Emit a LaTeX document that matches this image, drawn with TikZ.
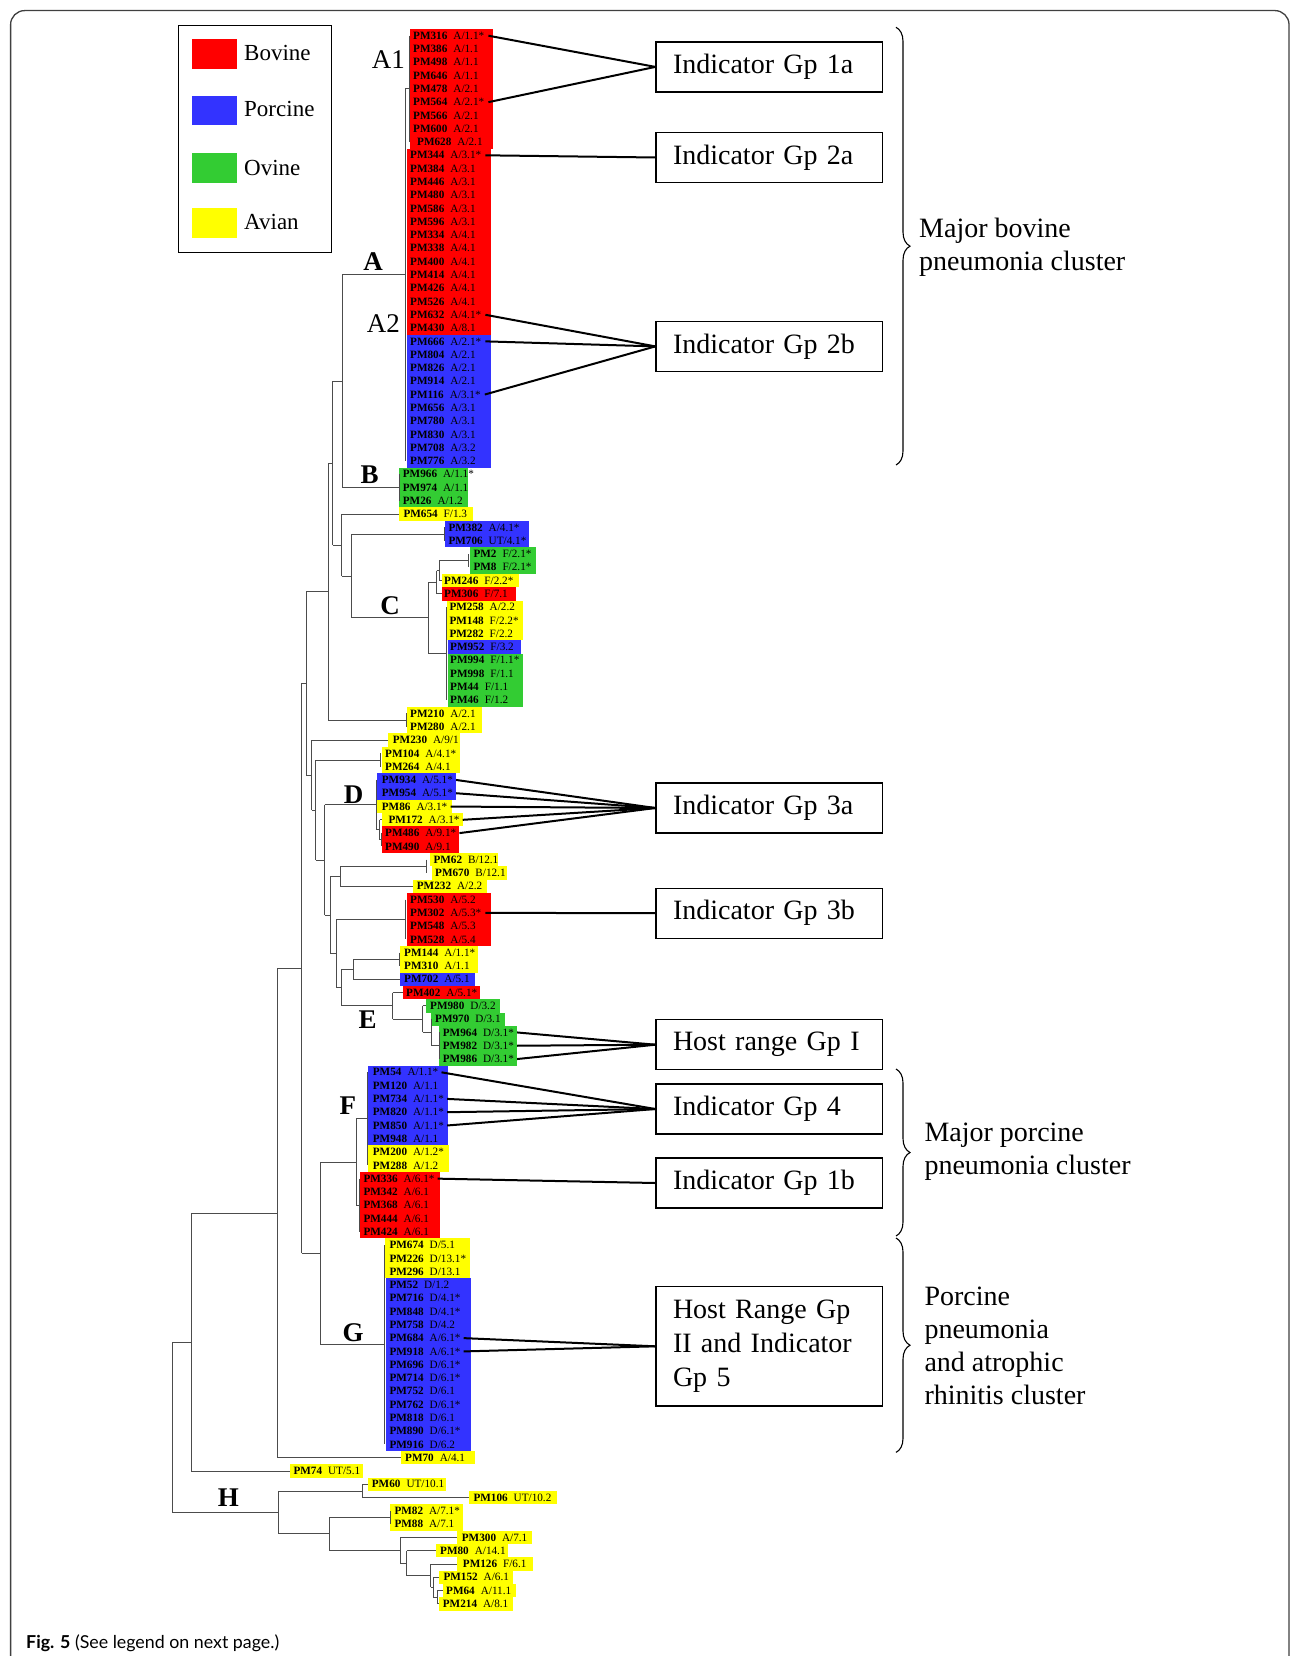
\documentclass[tikz,border=0pt]{standalone}
\usepackage{fontspec}
\setmainfont{Liberation Serif}
\newfontfamily\capfont{Lato}
\usetikzlibrary{decorations.pathreplacing}
\definecolor{cbov}{RGB}{255,0,0}
\definecolor{cpor}{RGB}{51,51,255}
\definecolor{covi}{RGB}{51,204,51}
\definecolor{cavi}{RGB}{255,255,0}
\newcommand\trV[3]{\draw[tree] (#1,#2) -- (#1,#3);}
\newcommand\trH[3]{\draw[tree] (#2,#1) -- (#3,#1);}
\newcommand\blk[5]{\fill[#5] (#1,{#3-0.5}) rectangle (#2,{#4+0.5});}
\newcommand\lf[4]{\node[lbl] (pm#2) at (#1,#3) {\textbf{PM#2}\hspace{6pt}#4};}
\begin{document}
\begin{tikzpicture}[x=1pt,y=-1pt,
  tree/.style={line width=0.9pt,black!70},
  conn/.style={line width=2pt,black},
  lbl/.style={anchor=west,inner sep=0pt,font=\fontsize{11.2}{12}\selectfont},
  gbox/.style={draw,line width=1.3pt,inner xsep=17pt,inner ysep=0pt,text width=192.5pt,align=left,minimum height=50pt,font=\fontsize{28}{33.8}\selectfont},
  clab/.style={inner sep=0pt,font=\fontsize{27}{30}\selectfont\bfseries},
  clabn/.style={inner sep=0pt,font=\fontsize{27}{30}\selectfont},
  legt/.style={anchor=west,inner sep=0pt,font=\fontsize{23}{26}\selectfont},
  ctext/.style={anchor=west,inner sep=0pt,align=left,font=\fontsize{28}{33}\selectfont},
  brc/.style={decorate,decoration={brace,amplitude=14pt},line width=1.1pt}
]
\useasboundingbox (0,0) rectangle (1295,1656);
\fill[white] (0,0) rectangle (1295,1656);
% frame
\draw[line width=1.3pt,black!75,rounded corners=14pt] (10.6,1670) -- (10.6,10.6) -- (1289,10.6) -- (1289,1670);
% legend
\draw[line width=1.4pt] (178.3,25.7) rectangle (331.7,252.3);
\fill[cbov] (192.3,39.3) rectangle (236.7,69);
\fill[cpor] (192.3,96) rectangle (236.7,125.3);
\fill[covi] (192.3,153.3) rectangle (236.7,183.3);
\fill[cavi] (192.3,208.3) rectangle (236.7,237.7);
\node[legt] (lbov) at (244,53.3) {Bovine};
\node[legt] (lpor) at (244,109.3) {Porcine};
\node[legt] (lovi) at (244,168.3) {Ovine};
\node[legt] (lavi) at (244,221.7) {Avian};

\begin{scope}[yshift=-35.7pt,y=-13.29pt]
% blocks
\blk{410}{493}{0}{8}{cbov}
\blk{407}{491}{9}{22}{cbov}
\blk{407}{491}{23}{32}{cpor}
\blk{399}{467.7}{33}{35}{covi}
\blk{399}{473.3}{36}{36}{cavi}
\blk{445}{529.3}{37}{38}{cpor}
\blk{470}{536}{39}{40}{covi}
\blk{441.7}{519.3}{41}{41}{cavi}
\blk{441.7}{515.7}{42}{42}{cbov}
\blk{446.7}{523.3}{43}{45}{cavi}
\blk{447.7}{521}{46}{46}{cpor}
\blk{447.7}{523.3}{47}{50}{covi}
\blk{406.7}{481.7}{51}{52}{cavi}
\blk{388.3}{460}{53}{53}{cavi}
\blk{381.7}{460}{54}{55}{cavi}
\blk{377.3}{456}{56}{57}{cpor}
\blk{377.3}{451.7}{58}{58}{cavi}
\blk{381.7}{463.3}{59}{59}{cavi}
\blk{381.7}{459.3}{60}{61}{cbov}
\blk{430}{498.3}{62}{62}{cavi}
\blk{431.7}{506.7}{63}{63}{cavi}
\blk{413.3}{486.7}{64}{64}{cavi}
\blk{406.7}{490.7}{65}{68}{cbov}
\blk{400}{478.3}{69}{70}{cavi}
\blk{400}{475}{71}{71}{cpor}
\blk{402.7}{480}{72}{72}{cbov}
\blk{426}{500}{73}{73}{covi}
\blk{431}{505}{74}{74}{covi}
\blk{439.3}{516.7}{75}{77}{covi}
\blk{368.3}{448.3}{78}{83}{cpor}
\blk{368.3}{449}{84}{85}{cavi}
\blk{360}{440}{86}{90}{cbov}
\blk{385}{470}{91}{93}{cavi}
\blk{385.7}{470.7}{94}{106}{cpor}
\blk{401}{475}{107}{107}{cavi}
\blk{290}{363.3}{108}{108}{cavi}
\blk{368.3}{446}{109}{109}{cavi}
\blk{469.3}{557.3}{110}{110}{cavi}
\blk{390}{463.3}{111}{112}{cavi}
\blk{457.3}{531.7}{113}{113}{cavi}
\blk{436}{508.3}{114}{114}{cavi}
\blk{457.3}{532.7}{115}{115}{cavi}
\blk{439.3}{513.3}{116}{116}{cavi}
\blk{442.7}{516}{117}{117}{cavi}
\blk{439.3}{513.3}{118}{118}{cavi}
% tree verticals
\trV{409}{0}{8}
\trV{405.3}{4}{32}
\trV{399.3}{33}{35}
\trV{342.3}{18}{34}
\trV{444.3}{37}{38}
\trV{468.3}{39}{40}
\trV{439}{39.5}{41}
\trV{436.7}{40.25}{42}
\trV{446.7}{43}{50}
\trV{428}{41.125}{46.5}
\trV{351}{37.5}{43.81}
\trV{341.7}{36}{40.66}
\trV{332.7}{26}{38.33}
\trV{406}{51}{52}
\trV{328.3}{32.17}{51.5}
\trV{380.7}{54}{55}
\trV{379.5}{59}{60.5}
\trV{381}{60}{61}
\trV{376}{56}{59.75}
\trV{426.3}{62}{63}
\trV{340}{62.5}{64}
\trV{405.5}{65}{68}
\trV{399.3}{69}{70}
\trV{353.3}{69.5}{71}
\trV{439}{75}{77}
\trV{431}{74}{76}
\trV{422.7}{73}{75}
\trV{392.5}{72}{74}
\trV{341.7}{70.25}{73}
\trV{336}{66.5}{71.625}
\trV{330}{63.25}{69.06}
\trV{324.7}{57.875}{66.16}
\trV{315.7}{54.5}{62.02}
\trV{311.7}{53}{58.26}
\trV{306}{41.83}{55.63}
\trV{367.8}{78}{85}
\trV{359.5}{86}{90}
\trV{356}{81.5}{88}
\trV{384}{91}{106}
\trV{320}{84.75}{98.5}
\trV{301.7}{48.73}{91.625}
\trV{277.7}{70.18}{107}
\trV{191}{88.59}{108}
\trV{362.7}{109}{110}
\trV{390}{111}{112}
\trV{437.3}{117}{118}
\trV{433.3}{116}{117.5}
\trV{430.7}{115}{116.75}
\trV{406.7}{114}{115.875}
\trV{400}{113}{114.94}
\trV{329}{111.5}{113.97}
\trV{278.3}{109.5}{112.73}
\trV{172.3}{98.3}{111.12}
% tree horizontals
\trH{4}{405.3}{409}
\trH{18}{342.3}{405.3}
\trH{34}{342.3}{399.3}
\trH{26}{332.7}{342.3}
\trH{37.5}{351}{444.3}
\trH{39.5}{439}{468.3}
\trH{40.25}{436.7}{439}
\trH{41}{439}{441.7}
\trH{41.125}{428}{436.7}
\trH{42}{436.7}{441.7}
\trH{46.5}{428}{446.7}
\trH{43.81}{351}{428}
\trH{40.66}{341.7}{351}
\trH{36}{341.7}{399}
\trH{38.33}{332.7}{341.7}
\trH{32.17}{328.3}{332.7}
\trH{51.5}{328.3}{406}
\trH{41.83}{306}{328.3}
\trH{53}{311.7}{388.3}
\trH{54.5}{315.7}{380.7}
\trH{59}{379.5}{381.7}
\trH{60.5}{379.5}{381}
\trH{59.75}{376}{379.5}
\trH{57.875}{324.7}{376}
\trH{62.5}{340}{426.3}
\trH{64}{340}{413.3}
\trH{63.25}{330}{340}
\trH{66.5}{336}{405.5}
\trH{69.5}{353.3}{399.3}
\trH{71}{353.3}{400}
\trH{70.25}{341.7}{353.3}
\trH{76}{431}{439}
\trH{75}{422.7}{431}
\trH{73}{422.7}{426}
\trH{72}{392.5}{402.7}
\trH{74}{392.5}{422.7}
\trH{73}{341.7}{392.5}
\trH{71.625}{336}{341.7}
\trH{69.06}{330}{336}
\trH{66.16}{324.7}{330}
\trH{62.02}{315.7}{324.7}
\trH{58.26}{311.7}{315.7}
\trH{55.63}{306}{311.7}
\trH{48.73}{301.7}{306}
\trH{81.5}{356}{367.8}
\trH{88}{356}{359.5}
\trH{84.75}{320}{356}
\trH{98.5}{320}{384}
\trH{91.625}{301.7}{320}
\trH{70.18}{277.7}{301.7}
\trH{107}{277.7}{401}
\trH{88.59}{191}{277.7}
\trH{108}{191}{290}
\trH{98.3}{172.3}{191}
\trH{109}{362.7}{368.3}
\trH{110}{362.7}{469.3}
\trH{109.5}{278.3}{362.7}
\trH{111.5}{329}{390}
\trH{117}{437.3}{442.7}
\trH{118}{437.3}{439.3}
\trH{116}{433.3}{439.3}
\trH{117.5}{433.3}{437.3}
\trH{115}{430.7}{457.3}
\trH{116.75}{430.7}{433.3}
\trH{114}{406.7}{436}
\trH{115.875}{406.7}{430.7}
\trH{113}{400}{457.3}
\trH{114.94}{400}{406.7}
\trH{113.97}{329}{400}
\trH{112.73}{278.3}{329}
\trH{111.12}{172.3}{278.3}
% leaves
\lf{413}{316}{0}{A/1.1*}
\lf{413}{386}{1}{A/1.1}
\lf{413}{498}{2}{A/1.1}
\lf{413}{646}{3}{A/1.1}
\lf{413}{478}{4}{A/2.1}
\lf{413}{564}{5}{A/2.1*}
\lf{413}{566}{6}{A/2.1}
\lf{413}{600}{7}{A/2.1}
\lf{417}{628}{8}{A/2.1}
\lf{410}{344}{9}{A/3.1*}
\lf{410}{384}{10}{A/3.1}
\lf{410}{446}{11}{A/3.1}
\lf{410}{480}{12}{A/3.1}
\lf{410}{586}{13}{A/3.1}
\lf{410}{596}{14}{A/3.1}
\lf{410}{334}{15}{A/4.1}
\lf{410}{338}{16}{A/4.1}
\lf{410}{400}{17}{A/4.1}
\lf{410}{414}{18}{A/4.1}
\lf{410}{426}{19}{A/4.1}
\lf{410}{526}{20}{A/4.1}
\lf{410}{632}{21}{A/4.1*}
\lf{410}{430}{22}{A/8.1}
\lf{410}{666}{23}{A/2.1*}
\lf{410}{804}{24}{A/2.1}
\lf{410}{826}{25}{A/2.1}
\lf{410}{914}{26}{A/2.1}
\lf{410}{116}{27}{A/3.1*}
\lf{410}{656}{28}{A/3.1}
\lf{410}{780}{29}{A/3.1}
\lf{410}{830}{30}{A/3.1}
\lf{410}{708}{31}{A/3.2}
\lf{410}{776}{32}{A/3.2}
\lf{402.7}{966}{33}{A/1.1*}
\lf{402.7}{974}{34}{A/1.1}
\lf{402.7}{26}{35}{A/1.2}
\lf{403.3}{654}{36}{F/1.3}
\lf{448.3}{382}{37}{A/4.1*}
\lf{448.3}{706}{38}{UT/4.1*}
\lf{473.3}{2}{39}{F/2.1*}
\lf{473.3}{8}{40}{F/2.1*}
\lf{444}{246}{41}{F/2.2*}
\lf{444}{306}{42}{F/7.1}
\lf{449.3}{258}{43}{A/2.2}
\lf{449.3}{148}{44}{F/2.2*}
\lf{449.3}{282}{45}{F/2.2}
\lf{450}{952}{46}{F/3.2}
\lf{450}{994}{47}{F/1.1*}
\lf{450}{998}{48}{F/1.1}
\lf{450}{44}{49}{F/1.1}
\lf{450}{46}{50}{F/1.2}
\lf{410}{210}{51}{A/2.1}
\lf{410}{280}{52}{A/2.1}
\lf{392.7}{230}{53}{A/9/1}
\lf{385}{104}{54}{A/4.1*}
\lf{385}{264}{55}{A/4.1}
\lf{381.7}{934}{56}{A/5.1*}
\lf{381.7}{954}{57}{A/5.1*}
\lf{381.7}{86}{58}{A/3.1*}
\lf{388.3}{172}{59}{A/3.1*}
\lf{385}{486}{60}{A/9.1*}
\lf{385}{490}{61}{A/9.1}
\lf{433.3}{62}{62}{B/12.1}
\lf{435}{670}{63}{B/12.1}
\lf{416.7}{232}{64}{A/2.2}
\lf{410}{530}{65}{A/5.2}
\lf{410}{302}{66}{A/5.3*}
\lf{410}{548}{67}{A/5.3}
\lf{410}{528}{68}{A/5.4}
\lf{404}{144}{69}{A/1.1*}
\lf{404}{310}{70}{A/1.1}
\lf{404}{702}{71}{A/5.1}
\lf{406}{402}{72}{A/5.1*}
\lf{430}{980}{73}{D/3.2}
\lf{435}{970}{74}{D/3.1}
\lf{442.7}{964}{75}{D/3.1*}
\lf{442.7}{982}{76}{D/3.1*}
\lf{442.7}{986}{77}{D/3.1*}
\lf{372.7}{54}{78}{A/1.1*}
\lf{372.7}{120}{79}{A/1.1}
\lf{372.7}{734}{80}{A/1.1*}
\lf{372.7}{820}{81}{A/1.1*}
\lf{372.7}{850}{82}{A/1.1*}
\lf{372.7}{948}{83}{A/1.1}
\lf{372.7}{200}{84}{A/1.2*}
\lf{372.7}{288}{85}{A/1.2}
\lf{363.3}{336}{86}{A/6.1*}
\lf{363.3}{342}{87}{A/6.1}
\lf{363.3}{368}{88}{A/6.1}
\lf{363.3}{444}{89}{A/6.1}
\lf{363.3}{424}{90}{A/6.1}
\lf{389.3}{674}{91}{D/5.1}
\lf{389.3}{226}{92}{D/13.1*}
\lf{389.3}{296}{93}{D/13.1}
\lf{389.3}{52}{94}{D/1.2}
\lf{389.3}{716}{95}{D/4.1*}
\lf{389.3}{848}{96}{D/4.1*}
\lf{389.3}{758}{97}{D/4.2}
\lf{389.3}{684}{98}{A/6.1*}
\lf{389.3}{918}{99}{A/6.1*}
\lf{389.3}{696}{100}{D/6.1*}
\lf{389.3}{714}{101}{D/6.1*}
\lf{389.3}{752}{102}{D/6.1}
\lf{389.3}{762}{103}{D/6.1*}
\lf{389.3}{818}{104}{D/6.1}
\lf{389.3}{890}{105}{D/6.1*}
\lf{389.3}{916}{106}{D/6.2}
\lf{405}{70}{107}{A/4.1}
\lf{293.3}{74}{108}{UT/5.1}
\lf{371.7}{60}{109}{UT/10.1}
\lf{473.3}{106}{110}{UT/10.2}
\lf{394.3}{82}{111}{A/7.1*}
\lf{394.3}{88}{112}{A/7.1}
\lf{461.7}{300}{113}{A/7.1}
\lf{440}{80}{114}{A/14.1}
\lf{462.7}{126}{115}{F/6.1}
\lf{443.3}{152}{116}{A/6.1}
\lf{446}{64}{117}{A/11.1}
\lf{442.7}{214}{118}{A/8.1}
\end{scope}

% cluster letters
\node[clabn] (la1) at (388.3,59.3) {A1};
\node[clabn] (la2) at (383.3,323.3) {A2};
\node[clab] (la) at (373,261.7) {A};
\node[clab] (lb) at (369.5,475) {B};
\node[clab] (lc) at (390,606) {C};
\node[clab] (ld) at (353.5,794.5) {D};
\node[clab] (le) at (367.7,1020) {E};
\node[clab] (lf) at (347.8,1105.3) {F};
\node[clab] (lg) at (353,1332.5) {G};
\node[clab] (lh) at (228.3,1497.8) {H};

% group boxes
\node[gbox] (gp1a) at (769.25,66.9) {Indicator Gp 1a};
\node[gbox] (gp2a) at (769.25,157.5) {Indicator Gp 2a};
\node[gbox] (gp2b) at (769.25,346.4) {Indicator Gp 2b};
\node[gbox] (gp3a) at (769.25,808) {Indicator Gp 3a};
\node[gbox] (gp3b) at (769.25,913.2) {Indicator Gp 3b};
\node[gbox] (hr1) at (769.25,1044.7) {Host range Gp I};
\node[gbox] (gp4) at (769.25,1109) {Indicator Gp 4};
\node[gbox] (gp1b) at (769.25,1183) {Indicator Gp 1b};
\node[gbox,minimum height=119.4pt] (hr2) at (769.25,1346.3) {Host Range Gp\\II and Indicator\\Gp 5};

% connectors
\foreach \p in {316,564} \draw[conn] ([xshift=4pt]pm\p.east) -- (gp1a.west);
\foreach \p in {344} \draw[conn] ([xshift=4pt]pm\p.east) -- (gp2a.west);
\foreach \p in {632,666,116} \draw[conn] ([xshift=4pt]pm\p.east) -- (gp2b.west);
\foreach \p in {934,954,86,172,486} \draw[conn] ([xshift=3pt]pm\p.east) -- (gp3a.west);
\foreach \p in {302} \draw[conn] ([xshift=4pt]pm\p.east) -- (gp3b.west);
\foreach \p in {964,982,986} \draw[conn] ([xshift=3pt]pm\p.east) -- (hr1.west);
\foreach \p in {54,734,820,850} \draw[conn] ([xshift=3pt]pm\p.east) -- (gp4.west);
\foreach \p in {336} \draw[conn] ([xshift=3pt]pm\p.east) -- (gp1b.west);
\foreach \p in {684,918} \draw[conn] ([xshift=3pt]pm\p.east) -- (hr2.west);

% braces
\coordinate (b1t) at (896,27.3);
\coordinate (b1b) at (896,465);
\coordinate (b2t) at (896,1069);
\coordinate (b2b) at (896,1236);
\coordinate (b3t) at (896,1238);
\coordinate (b3b) at (896,1452.4);
\draw[brc] (b1t) -- (b1b);
\draw[brc] (b2t) -- (b2b);
\draw[brc] (b3t) -- (b3b);
\node[ctext] (c1) at (919,247) {Major bovine\\pneumonia cluster};
\node[ctext] (c2) at (924.3,1152) {Major porcine\\pneumonia cluster};
\node[ctext] (c3) at (924.3,1346) {Porcine\\pneumonia\\and atrophic\\rhinitis cluster};

% caption
\node[anchor=west,inner sep=0pt,font=\capfont\fontsize{17.8}{21}\selectfont] (cap) at (26,1643) {\textbf{Fig. 5} (See legend on next page.)};
\end{tikzpicture}
\end{document}
